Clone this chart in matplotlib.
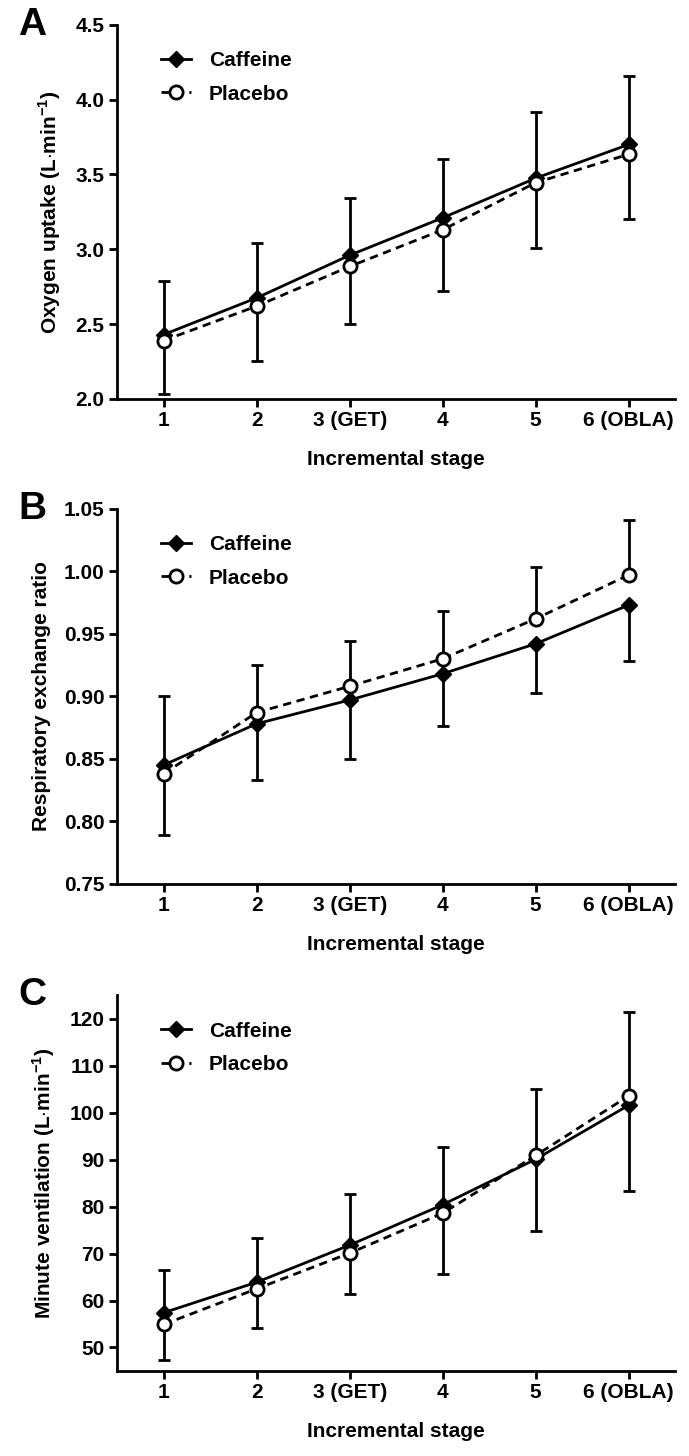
import numpy as np
import matplotlib
matplotlib.use('Agg')
import matplotlib.pyplot as plt

plt.rcParams['font.family'] = ['Liberation Sans', 'DejaVu Sans']
plt.rcParams['font.weight'] = 'bold'
plt.rcParams['mathtext.fontset'] = 'custom'
plt.rcParams['mathtext.rm'] = 'Liberation Sans:bold'
plt.rcParams['mathtext.bf'] = 'Liberation Sans:bold'

stages = [1, 2, 3, 4, 5, 6]
stage_labels = ['1', '2', '3 (GET)', '4', '5', '6 (OBLA)']

# panel A: oxygen uptake
vo2_caf = [2.43, 2.675, 2.96, 3.21, 3.475, 3.70]
vo2_caf_sd = [0.36, 0.37, 0.38, 0.39, 0.445, 0.46]
vo2_pla = [2.39, 2.62, 2.885, 3.13, 3.445, 3.635]
vo2_pla_sd = [0.355, 0.365, 0.385, 0.41, 0.435, 0.435]

# panel B: RER
rer_caf = [0.845, 0.878, 0.897, 0.918, 0.942, 0.973]
rer_caf_sd = [0.055, 0.045, 0.0475, 0.0415, 0.039, 0.0445]
rer_pla = [0.838, 0.887, 0.908, 0.930, 0.962, 0.997]
rer_pla_sd = [0.049, 0.038, 0.036, 0.0385, 0.041, 0.044]

# panel C: minute ventilation
ve_caf = [57.4, 63.9, 71.8, 80.4, 90.1, 101.6]
ve_caf_sd = [9.2, 9.5, 10.8, 12.3, 15.2, 18.2]
ve_pla = [54.9, 62.5, 70.1, 78.6, 90.9, 103.6]
ve_pla_sd = [7.5, 8.3, 8.7, 13.0, 14.1, 17.8]

FS = 15


def draw_panel(ax, caf, caf_sd, pla, pla_sd, yticks, ylim, fmt, ylabel, letter):
    x = np.array(stages)
    caf = np.array(caf); pla = np.array(pla)
    caf_sd = np.array(caf_sd); pla_sd = np.array(pla_sd)
    # higher group gets the upper bar, lower group the lower bar
    caf_up = caf >= pla
    caf_err = [np.where(caf_up, 0, caf_sd), np.where(caf_up, caf_sd, 0)]
    pla_err = [np.where(caf_up, pla_sd, 0), np.where(caf_up, 0, pla_sd)]

    ax.errorbar(x, caf, yerr=caf_err, fmt='none', ecolor='black', elinewidth=2,
                capsize=4.5, capthick=2, zorder=2)
    ax.errorbar(x, pla, yerr=pla_err, fmt='none', ecolor='black', elinewidth=2,
                capsize=4.5, capthick=2, zorder=2)
    ax.plot(x, caf, '-', color='black', lw=2, marker='D', ms=8,
            mfc='black', mec='black', label='Caffeine', zorder=3)
    ax.plot(x, pla, '--', color='black', lw=2, marker='o', ms=9.5,
            mfc='white', mec='black', mew=2, label='Placebo', zorder=4,
            dashes=(3, 2))

    ax.set_xlim(0.5, 6.5)
    ax.set_ylim(*ylim)
    ax.set_xticks(stages)
    ax.set_xticklabels(stage_labels)
    ax.set_yticks(yticks)
    ax.set_yticklabels([fmt % v for v in yticks])
    ax.spines['top'].set_visible(False)
    ax.spines['right'].set_visible(False)
    ax.spines['left'].set_linewidth(2)
    ax.spines['bottom'].set_linewidth(2)
    ax.tick_params(width=2, length=6, labelsize=FS, direction='out', pad=3)
    ax.set_xlabel('Incremental stage', fontsize=FS, fontweight='bold', labelpad=14)
    ax.set_ylabel(ylabel, fontsize=FS, fontweight='bold', labelpad=9)
    ax.legend(loc='upper left', bbox_to_anchor=(0.045, 0.98), frameon=False,
              fontsize=FS, handlelength=1.45, handletextpad=0.85, labelspacing=0.7)
    ax.text(-0.152, 1.0, letter, transform=ax.transAxes, fontsize=28,
            fontweight='bold', ha='center', va='center')


fig = plt.figure(figsize=(6.89, 14.56), dpi=100)
axA = fig.add_axes([0.170, 0.726, 0.810, 0.257])
axB = fig.add_axes([0.170, 0.393, 0.810, 0.2576])
axC = fig.add_axes([0.170, 0.0584, 0.810, 0.258])

draw_panel(axA, vo2_caf, vo2_caf_sd, vo2_pla, vo2_pla_sd,
           [2.0, 2.5, 3.0, 3.5, 4.0, 4.5], (2.0, 4.5), '%.1f',
           'Oxygen uptake (L$\\cdot$min$^{\\mathbf{-1}}$)', 'A')
draw_panel(axB, rer_caf, rer_caf_sd, rer_pla, rer_pla_sd,
           [0.75, 0.80, 0.85, 0.90, 0.95, 1.00, 1.05], (0.75, 1.05), '%.2f',
           'Respiratory exchange ratio', 'B')
draw_panel(axC, ve_caf, ve_caf_sd, ve_pla, ve_pla_sd,
           [50, 60, 70, 80, 90, 100, 110, 120], (45, 125), '%d',
           'Minute ventilation (L$\\cdot$min$^{\\mathbf{-1}}$)', 'C')

fig.savefig('out.png', dpi=100)
